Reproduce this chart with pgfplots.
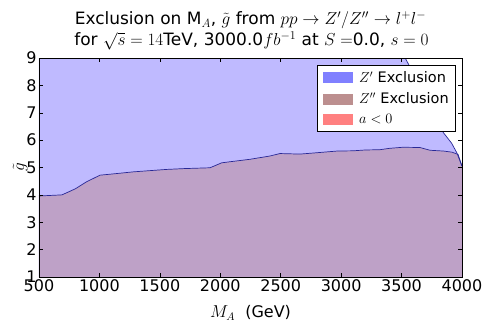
\documentclass[border=0pt]{standalone}
\usepackage{pgfplots}
\pgfplotsset{compat=1.18}
\usepackage{fontspec}
\setmainfont{DejaVu Sans}

\definecolor{zpfill}{RGB}{191,186,255}
\definecolor{zppfill}{RGB}{190,161,199}
\definecolor{zline}{RGB}{40,40,150}
\definecolor{zppatch}{RGB}{128,128,255}
\definecolor{zpppatch}{RGB}{188,143,143}
\definecolor{apatch}{RGB}{255,128,128}

\newcommand{\bigfont}{\fontsize{16}{19}\selectfont}
\newcommand{\titlefont}{\fontsize{17}{20}\selectfont}

\begin{document}
\begin{tikzpicture}
\useasboundingbox (-39pt,-50pt) rectangle (452pt,277pt);
\begin{axis}[
  at={(0,0)}, anchor=south west,
  scale only axis, width=423pt, height=219pt,
  xmin=500, xmax=4000, ymin=1, ymax=9,
  xtick={500,1000,...,4000}, ytick={1,2,...,9},
  tick align=inside, major tick length=4pt,
  tick style={black, line width=0.5pt},
  axis line style={black, line width=0.6pt},
  axis on top,
  /pgf/number format/1000 sep={},
  /pgf/number format/assume math mode=true,
  ticklabel style={font=\bigfont},
  xticklabel style={yshift=1pt},
  yticklabel style={xshift=1pt},
  xlabel={$M_A$\ \ (GeV)},
  ylabel={$\tilde{g}$},
  label style={font=\bigfont},
  xlabel style={yshift=-7pt},
  ylabel style={yshift=-8pt},
  legend style={at={(1,1)}, anchor=north east, xshift=-6pt, yshift=-7pt,
    font=\fontsize{14.5}{14.5}\selectfont, draw=black, line width=0.5pt,
    inner xsep=5pt, inner ysep=4pt, row sep=5pt, cells={anchor=west},
    /tikz/every odd column/.append style={column sep=5pt}},
  legend cell align=left,
]

% Z' exclusion region
\addplot[fill=zpfill, draw=none, forget plot] coordinates {
  (500,1) (500,9) (3530,9) (3700,7.6) (3843,6.29) (3914,5.89) (3958,5.53) (4000,5.05) (4000,1)
} -- cycle;

% Z'' exclusion region
\addplot[fill=zppfill, draw=none, forget plot] coordinates {
  (500,3.96) (690,4.0) (800,4.22) (894,4.48) (1005,4.72) (1100,4.76) (1278,4.84)
  (1400,4.88) (1556,4.93) (1700,4.96) (1915,4.99) (2011,5.17) (2080,5.21)
  (2246,5.30) (2411,5.42) (2494,5.51) (2660,5.49) (2800,5.54) (2963,5.60)
  (3100,5.61) (3200,5.64) (3321,5.65) (3400,5.70) (3512,5.74) (3652,5.73)
  (3735,5.63) (3850,5.60) (3917,5.56) (3967,5.48) (4000,5.05)
} \closedcycle;

% boundaries
\addplot[zline, line width=0.7pt, forget plot] coordinates {
  (500,3.96) (690,4.0) (800,4.22) (894,4.48) (1005,4.72) (1100,4.76) (1278,4.84)
  (1400,4.88) (1556,4.93) (1700,4.96) (1915,4.99) (2011,5.17) (2080,5.21)
  (2246,5.30) (2411,5.42) (2494,5.51) (2660,5.49) (2800,5.54) (2963,5.60)
  (3100,5.61) (3200,5.64) (3321,5.65) (3400,5.70) (3512,5.74) (3652,5.73)
  (3735,5.63) (3850,5.60) (3917,5.56) (3967,5.48) (4000,5.05)
};
\addplot[zline, line width=0.7pt, forget plot] coordinates {
  (3530,9) (3700,7.6) (3843,6.29) (3914,5.89) (3958,5.53) (4000,5.05)
};

\addlegendimage{legend image code/.code={\fill[zppatch] (0pt,-5pt) rectangle (29pt,5pt);}}
\addlegendentry{$Z'$ Exclusion}
\addlegendimage{legend image code/.code={\fill[zpppatch] (0pt,-5pt) rectangle (29pt,5pt);}}
\addlegendentry{$Z''$ Exclusion}
\addlegendimage{legend image code/.code={\fill[apatch] (0pt,-5pt) rectangle (29pt,5pt);}}
\addlegendentry{$a<0$}
\end{axis}

\node[anchor=base, font=\titlefont] at (211.5pt,252pt)
  {Exclusion on M$_A$, $\tilde{g}$ from $pp\rightarrow Z'/Z''\rightarrow l^+l^-$};
\node[anchor=base, font=\titlefont] at (212.5pt,231pt)
  {for $\sqrt{s}=14$TeV, 3000.0$fb^{-1}$ at $S=$0.0, $s=0$};
\end{tikzpicture}
\end{document}
